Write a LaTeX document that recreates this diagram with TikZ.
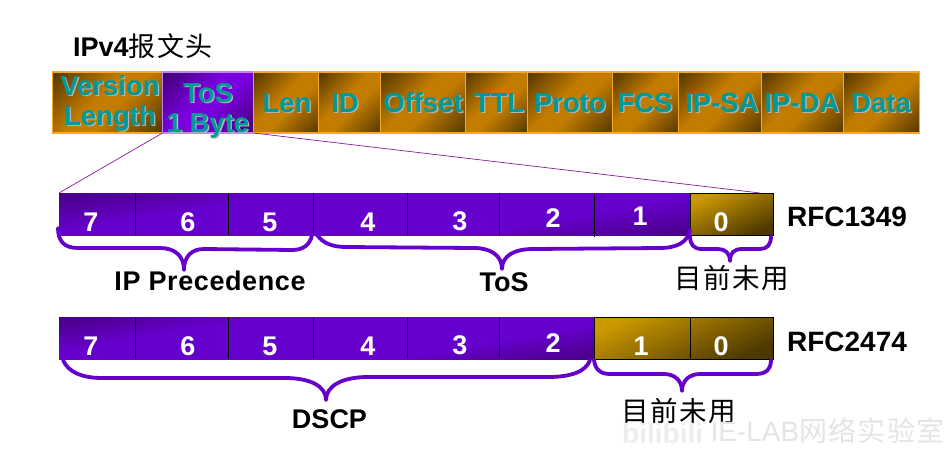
\documentclass[tikz,border=0pt]{standalone}
\usepackage{fontspec}
\setmainfont{Liberation Sans}
\newfontfamily\cjk[LetterSpace=5]{Noto Sans CJK SC}
\usepackage[dvipsnames]{xcolor}
\usetikzlibrary{positioning,calc}

\definecolor{hborder}{HTML}{F9A825}
\definecolor{hdark}{HTML}{4A3000}
\definecolor{hmid}{HTML}{C27C00}
\definecolor{pdark}{HTML}{46007F}
\definecolor{pmid}{HTML}{6600CC}
\definecolor{tosdark}{HTML}{3A0068}
\definecolor{tosmid}{HTML}{7A00DD}
\definecolor{tosborder}{HTML}{BB88EE}
\definecolor{gtop}{HTML}{CC9900}
\definecolor{gdark}{HTML}{4D3800}
\definecolor{hteal}{HTML}{009999}
\definecolor{hshadow}{HTML}{B4B4B4}
\definecolor{thinline}{HTML}{8A1A9A}
\definecolor{wmark}{HTML}{E4E4E4}
\definecolor{wlogo}{HTML}{EDEDED}

\pgfdeclareverticalshading{hshade}{100bp}{color(0bp)=(hdark);color(12bp)=(hdark);color(44bp)=(hmid);color(56bp)=(hmid);color(88bp)=(hdark);color(100bp)=(hdark)}
\pgfdeclareverticalshading{tshade}{100bp}{color(0bp)=(tosdark);color(12bp)=(tosdark);color(44bp)=(tosmid);color(56bp)=(tosmid);color(88bp)=(tosdark);color(100bp)=(tosdark)}
\pgfdeclareverticalshading{pshade}{100bp}{color(0bp)=(pdark);color(20bp)=(pdark);color(36bp)=(pmid);color(64bp)=(pmid);color(80bp)=(pdark);color(100bp)=(pdark)}

\newcommand{\shtxt}[1]{\makebox[0pt][l]{\hspace{1.3pt}\raisebox{-1.3pt}{\textcolor{hshadow}{#1}}}#1}

\begin{document}
\begin{tikzpicture}[x=1pt,y=-1pt,
    hcell/.style={draw=hborder,line width=1.8pt,outer sep=0pt,inner sep=0pt,minimum height=61pt,
        shading=hshade,shading angle=45},
    toscell/.style={hcell,draw=tosborder,shading=tshade},
    htxt/.style={text=hteal,align=center,inner sep=0pt,font=\fontsize{27.5}{30}\selectfont\bfseries},
    purplebar/.style={outer sep=0pt,inner sep=0pt,minimum height=42pt,
        shading=pshade,shading angle=10},
    goldbar/.style={draw=black,line width=0.8pt,outer sep=0pt,inner sep=0pt,minimum height=42pt,
        top color=gtop,bottom color=gdark,shading angle=25},
    digit/.style={text=white,font=\fontsize{27}{30}\selectfont\bfseries,inner sep=0pt},
    tag/.style={text=black,font=\fontsize{27}{30}\selectfont\bfseries,inner sep=0pt},
    rfctag/.style={tag,font=\fontsize{28}{30}\selectfont\bfseries},
    cjktag/.style={text=black,font=\fontsize{27.5}{30}\selectfont\cjk,inner sep=0pt},
    sep/.style={draw=black,line width=0.6pt},
    thin link/.style={draw=thinline,line width=0.7pt},
    cbrace/.style={draw=pmid,line width=3.8pt,line cap=round,line join=round}]

    \useasboundingbox (0,0) rectangle (947,450);

    \node (title) [tag,anchor=west] at (73,46) {IPv4{\mdseries\cjk 报文头}};

    % header row
    \node (ver) [hcell,minimum width=110pt,anchor=north west] at (52.5,72) {};
    \node (tos) [toscell,minimum width=91pt,right=0pt of ver] {};
    \node (len) [hcell,minimum width=65pt,right=0pt of tos] {};
    \node (id) [hcell,minimum width=62pt,right=0pt of len] {};
    \node (off) [hcell,minimum width=85pt,right=0pt of id] {};
    \node (ttl) [hcell,minimum width=62pt,right=0pt of off] {};
    \node (proto) [hcell,minimum width=85pt,right=0pt of ttl] {};
    \node (fcs) [hcell,minimum width=66pt,right=0pt of proto] {};
    \node (sa) [hcell,minimum width=83pt,right=0pt of fcs] {};
    \node (da) [hcell,minimum width=82pt,right=0pt of sa] {};
    \node (data) [hcell,minimum width=76pt,right=0pt of da] {};

    \node (vertxt) [htxt] at (110,104) {\shtxt{Version}\\\shtxt{Length}};
    \node (tostxt) [htxt] at (208,111) {\shtxt{ToS}\\\shtxt{1 Byte}};
    \node (lentxt) [htxt] at (287,103.5) {\shtxt{Len}};
    \node (idtxt) [htxt] at (345,103.5) {\shtxt{ID}};
    \node (offtxt) [htxt] at (423,103.5) {\shtxt{Offset}};
    \node (ttltxt) [htxt] at (499,103.5) {\shtxt{TTL}};
    \node (prototxt) [htxt] at (570,103.5) {\shtxt{Proto}};
    \node (fcstxt) [htxt] at (645,103.5) {\shtxt{FCS}};
    \node (satxt) [htxt] at (722,103.5) {\shtxt{IP-SA}};
    \node (datxt) [htxt] at (802,103.5) {\shtxt{IP-DA}};
    \node (datatxt) [htxt] at (881,103.5) {\shtxt{Data}};

    % RFC1349
    \node (ra) [purplebar,minimum width=631pt,anchor=north west] at (59,193) {};
    \node (rb) [goldbar,minimum width=83pt,right=0pt of ra] {};
    \draw[sep] (135,193) -- (135,235);
    \draw[sep] (228,194) -- (228,235);
    \draw[sep] (313,193) -- (313,235);
    \draw[sep] (407,193) -- (407,235);
    \draw[sep] (499,193) -- (499,235);
    \draw[sep] (594,195) -- (594,237);

    \node (a7) [digit] at (91,222) {7};
    \node (a6) [digit] at (188,222) {6};
    \node (a5) [digit] at (270,222) {5};
    \node (a4) [digit] at (368,222) {4};
    \node (a3) [digit] at (460,221) {3};
    \node (a2) [digit] at (553,218) {2};
    \node (a1) [digit] at (640,216) {1};
    \node (a0) [digit] at (721,222) {0};

    \node (rfca) [rfctag] at (847,217) {RFC1349};

    % RFC2474
    \node (ca) [purplebar,minimum width=535pt,anchor=north west] at (59,317) {};
    \node (cb) [goldbar,minimum width=179pt,right=0pt of ca] {};
    \draw[sep] (135,318) -- (135,359);
    \draw[sep] (228,318) -- (228,359);
    \draw[sep] (313,318) -- (313,359);
    \draw[sep] (407,318) -- (407,359);
    \draw[sep] (499,318) -- (499,358);
    \draw[sep] (690,317) -- (690,359);

    \node (b7) [digit] at (91,346) {7};
    \node (b6) [digit] at (188,346) {6};
    \node (b5) [digit] at (270,346) {5};
    \node (b4) [digit] at (368,346) {4};
    \node (b3) [digit] at (460,345) {3};
    \node (b2) [digit] at (553,343) {2};
    \node (b1) [digit] at (641,346) {1};
    \node (b0) [digit] at (721,346) {0};

    \node (rfcb) [rfctag] at (847,342) {RFC2474};

    % links from the ToS box
    \coordinate (lk) at (760,193);
    \draw[thin link] (tos.south west) -- (ra.north west);
    \draw[thin link] (tos.south east) -- (lk);

    % braces
    \coordinate (pa) at (58,228);
    \coordinate (pb) at (312,235);
    \coordinate (qa) at (317,235);
    \coordinate (qb) at (690,230);
    \coordinate (ua) at (690,236);
    \coordinate (ub) at (771,236);
    \coordinate (va) at (63,360);
    \coordinate (vb) at (590,360);
    \coordinate (wa) at (594,360);
    \coordinate (wb) at (771,360);
    \draw[cbrace] (pa) .. controls (58,241) and (64,248) .. (78,248) -- (160,248)
        .. controls (175,248) and (184,256) .. (184,270) .. controls (184,256) and (192,249) .. (204,249)
        -- (292,250) .. controls (303,250) and (310,245) .. (pb);
    \draw[cbrace] (qa) .. controls (323,243) and (332,247) .. (346,247) -- (474,248)
        .. controls (490,248) and (502,255) .. (502,269) .. controls (502,256) and (514,249) .. (533,249)
        -- (660,248) .. controls (677,248) and (688,242) .. (qb);
    \draw[cbrace] (ua) .. controls (690,245) and (694,249) .. (702,249) -- (718,249)
        .. controls (725,249) and (730,253) .. (730,261) .. controls (730,253) and (734,249) .. (742,249)
        -- (760,249) .. controls (767,249) and (771,245) .. (ub);
    \draw[cbrace] (va) .. controls (68,372) and (82,378) .. (102,378) -- (285,378)
        .. controls (310,378) and (326,386) .. (326,400) .. controls (326,386) and (342,377) .. (368,377)
        -- (548,377) .. controls (570,377) and (586,372) .. (vb);
    \draw[cbrace] (wa) .. controls (595,369) and (600,374) .. (610,374) -- (664,374)
        .. controls (675,374) and (682,381) .. (682,391) .. controls (682,381) and (689,374) .. (700,374)
        -- (756,374) .. controls (766,374) and (771,369) .. (wb);

    \node (prec) [tag,font=\fontsize{27}{30}\selectfont\bfseries\addfontfeature{LetterSpace=2.2}] at (210,281) {IP Precedence};
    \node (tosl) [tag] at (504,282) {ToS};
    \node (unuseda) [cjktag] at (732,278) {目前未用};
    \node (dscp) [tag] at (329.5,419) {DSCP};
    \node (unusedb) [cjktag] at (679,411) {目前未用};

    % watermark
    \node (wmlogo) [anchor=west,text=wlogo,inner sep=0pt,font=\fontsize{28}{30}\selectfont\bfseries] at (622,433) {bilibili};
    \node (wm) [anchor=east,text=wmark,inner sep=0pt,font=\fontsize{28}{30}\selectfont] at (945,431) {IE-LAB{\cjk 网络实验室}};
\end{tikzpicture}
\end{document}
